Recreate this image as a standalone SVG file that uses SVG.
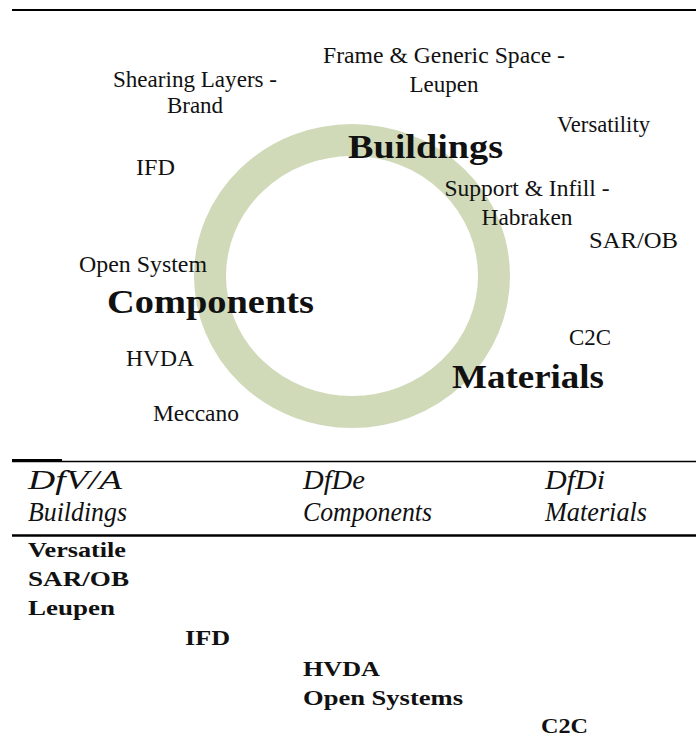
<svg xmlns="http://www.w3.org/2000/svg" width="696" height="740" viewBox="0 0 696 740">
<style>
text{font-family:"Liberation Serif","Times New Roman",serif;fill:#111;}
.lbl{font-size:23px;}
.big{font-size:34px;font-weight:bold;}
.hdr{font-size:27px;font-style:italic;}
.lst{font-size:22px;font-weight:bold;}
.rule{stroke:#000;fill:none;}
</style>
<rect width="696" height="740" fill="#fff"/>
<g id="rules">
<line class="rule" x1="12" y1="10" x2="696" y2="10" stroke-width="2.2"/>
<line class="rule" x1="12" y1="460" x2="62" y2="460" stroke-width="2"/>
<line class="rule" x1="12" y1="461.5" x2="696" y2="461.5" stroke-width="1.3"/>
<line class="rule" x1="12" y1="535.5" x2="696" y2="535.5" stroke-width="2.5"/>
</g>
<g id="ring">
<ellipse cx="352" cy="276" rx="142" ry="136" fill="none" stroke="#d0dab9" stroke-width="32"/>
</g>
<g id="connectors"></g>
<g id="labels">
<g id="shearing"><text class="lbl" x="195" y="87" text-anchor="middle" textLength="164" lengthAdjust="spacingAndGlyphs">Shearing Layers -</text><text class="lbl" x="195" y="113" text-anchor="middle">Brand</text></g>
<g id="frame"><text class="lbl" x="444" y="63" text-anchor="middle" textLength="242" lengthAdjust="spacingAndGlyphs">Frame &amp; Generic Space -</text><text class="lbl" x="444" y="92" text-anchor="middle">Leupen</text></g>
<g id="versatility"><text class="lbl" x="557" y="132" textLength="93" lengthAdjust="spacingAndGlyphs">Versatility</text></g>
<g id="ifd"><text class="lbl" x="136" y="175" textLength="39" lengthAdjust="spacingAndGlyphs">IFD</text></g>
<g id="support"><text class="lbl" x="527" y="196" text-anchor="middle" textLength="165" lengthAdjust="spacingAndGlyphs">Support &amp; Infill -</text><text class="lbl" x="527" y="225" text-anchor="middle" textLength="91" lengthAdjust="spacingAndGlyphs">Habraken</text></g>
<g id="sarob"><text class="lbl" x="589" y="248" textLength="89" lengthAdjust="spacingAndGlyphs">SAR/OB</text></g>
<g id="opensystem"><text class="lbl" x="79" y="272" textLength="128" lengthAdjust="spacingAndGlyphs">Open System</text></g>
<g id="c2c"><text class="lbl" x="569" y="345" textLength="42" lengthAdjust="spacingAndGlyphs">C2C</text></g>
<g id="hvda"><text class="lbl" x="126" y="366" textLength="68" lengthAdjust="spacingAndGlyphs">HVDA</text></g>
<g id="meccano"><text class="lbl" x="153" y="421" textLength="86" lengthAdjust="spacingAndGlyphs">Meccano</text></g>
<g id="buildings"><text class="big" x="348" y="158" textLength="155" lengthAdjust="spacingAndGlyphs">Buildings</text></g>
<g id="components"><text class="big" x="107" y="313" textLength="207" lengthAdjust="spacingAndGlyphs">Components</text></g>
<g id="materials"><text class="big" x="452" y="388" textLength="152" lengthAdjust="spacingAndGlyphs">Materials</text></g>
</g>
<g id="table">
<g id="col-buildings"><text class="hdr" x="28" y="489" textLength="94" lengthAdjust="spacingAndGlyphs">DfV/A</text><text class="hdr" x="28" y="521" textLength="99" lengthAdjust="spacingAndGlyphs">Buildings</text></g>
<g id="col-components"><text class="hdr" x="303" y="489" textLength="62" lengthAdjust="spacingAndGlyphs">DfDe</text><text class="hdr" x="303" y="521" textLength="129" lengthAdjust="spacingAndGlyphs">Components</text></g>
<g id="col-materials"><text class="hdr" x="545" y="489" textLength="60" lengthAdjust="spacingAndGlyphs">DfDi</text><text class="hdr" x="545" y="521" textLength="102" lengthAdjust="spacingAndGlyphs">Materials</text></g>
<g id="list">
<text class="lst" x="28" y="557" textLength="98" lengthAdjust="spacingAndGlyphs">Versatile</text>
<text class="lst" x="28" y="586" textLength="101" lengthAdjust="spacingAndGlyphs">SAR/OB</text>
<text class="lst" x="28" y="615" textLength="87" lengthAdjust="spacingAndGlyphs">Leupen</text>
<text class="lst" x="185" y="645" textLength="45" lengthAdjust="spacingAndGlyphs">IFD</text>
<text class="lst" x="303" y="676" textLength="77" lengthAdjust="spacingAndGlyphs">HVDA</text>
<text class="lst" x="303" y="705" textLength="160" lengthAdjust="spacingAndGlyphs">Open Systems</text>
<text class="lst" x="541" y="733" textLength="47" lengthAdjust="spacingAndGlyphs">C2C</text>
</g>
</g>
</svg>
